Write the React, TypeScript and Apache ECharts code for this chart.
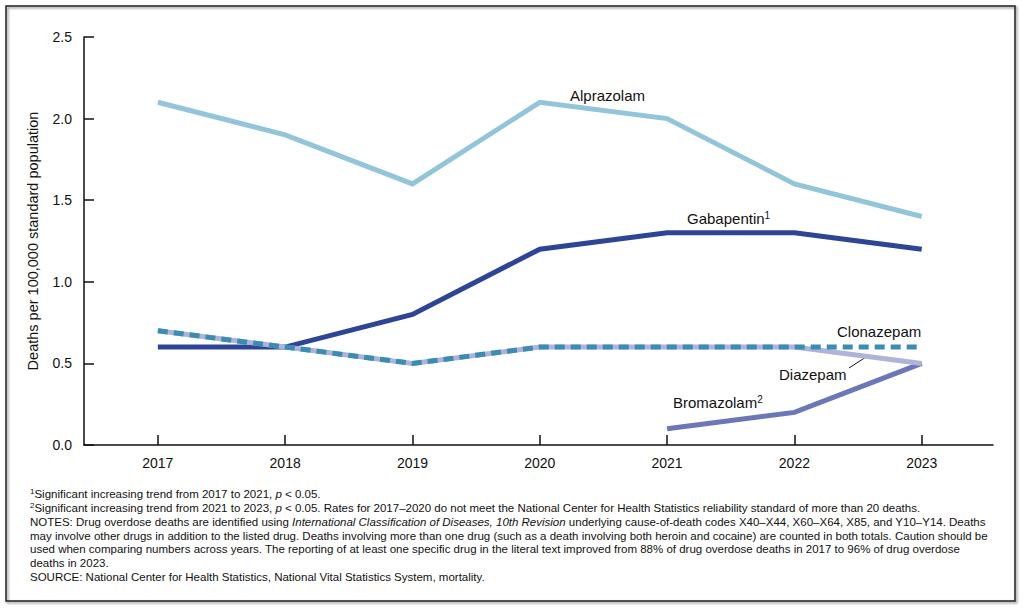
import React, { useEffect, useRef } from "react";
import * as echarts from "echarts";

const years = [2017, 2018, 2019, 2020, 2021, 2022, 2023];
const alprazolam = [2.1, 1.9, 1.6, 2.1, 2.0, 1.6, 1.4];
const gabapentin = [0.6, 0.6, 0.8, 1.2, 1.3, 1.3, 1.2];
const clonazepam = [0.7, 0.6, 0.5, 0.6, 0.6, 0.6, 0.6];
const diazepam = [0.7, 0.6, 0.5, 0.6, 0.6, 0.6, 0.5];
const bromazolam = [null, null, null, null, 0.1, 0.2, 0.5];
const yTicks = [0, 0.5, 1.0, 1.5, 2.0, 2.5];

const FONT = "Liberation Sans, Arial, sans-serif";

const pairs = (vals: (number | null)[]) => years.map((y, i) => [y, vals[i]]);

export default function App() {
  const ref = useRef<HTMLDivElement>(null);
  useEffect(() => {
    if (!ref.current) return;
    const chart = echarts.init(ref.current, undefined, { renderer: "svg" });
    const lineSeries = (name: string, vals: (number | null)[], color: string, extra: any = {}) => ({
      name,
      type: "line",
      data: pairs(vals),
      showSymbol: false,
      symbol: "none",
      connectNulls: false,
      lineStyle: { color, width: 5, cap: "butt", join: "miter", ...extra },
      silent: true,
    });
    const fnStyle = { fontFamily: FONT, fontSize: 11.5, fill: "#111" };
    const rich = {
      sup: { fontFamily: FONT, fontSize: 8, verticalAlign: "top", padding: [0, 0, 5, 0], fill: "#111" },
      it: { fontFamily: FONT, fontSize: 11.5, fontStyle: "italic", fill: "#111" },
      n: { fontFamily: FONT, fontSize: 11.5, fill: "#111" },
    };
    const footLines = [
      "{sup|1}{n|Significant increasing trend from 2017 to 2021, }{it|p}{n| < 0.05.}",
      "{sup|2}{n|Significant increasing trend from 2021 to 2023, }{it|p}{n| < 0.05. Rates for 2017–2020 do not meet the National Center for Health Statistics reliability standard of more than 20 deaths.}",
      "{n|NOTES: Drug overdose deaths are identified using }{it|International Classification of Diseases, 10th Revision}{n| underlying cause-of-death codes X40–X44, X60–X64, X85, and Y10–Y14. Deaths}",
      "{n|may involve other drugs in addition to the listed drug. Deaths involving more than one drug (such as a death involving both heroin and cocaine) are counted in both totals. Caution should be}",
      "{n|used when comparing numbers across years. The reporting of at least one specific drug in the literal text improved from 88% of drug overdose deaths in 2017 to 96% of drug overdose}",
      "{n|deaths in 2023.}",
      "{n|SOURCE: National Center for Health Statistics, National Vital Statistics System, mortality.}",
    ];
    const labelStyle = { fontFamily: FONT, fontSize: 15, fill: "#111" };
    const labelRich = {
      s: { fontFamily: FONT, fontSize: 10, verticalAlign: "top", padding: [0, 0, 6, 0], fill: "#111" },
      t: { fontFamily: FONT, fontSize: 15, fill: "#111" },
    };
    chart.setOption({
      animation: false,
      backgroundColor: "#fff",
      grid: { left: 84, right: 31, top: 37, bottom: 163, containLabel: false },
      xAxis: {
        type: "value",
        min: 2016.42,
        max: 2023.56,
        splitLine: { show: false },
        axisLine: { show: true, lineStyle: { color: "#111", width: 1.5 } },
        axisTick: { show: true, inside: true, length: 10, customValues: years, lineStyle: { color: "#111", width: 1.5 } },
        axisLabel: {
          customValues: years,
          margin: 11,
          fontFamily: FONT,
          fontSize: 14,
          color: "#111",
          formatter: (v: number) => String(Math.round(v)),
        },
      },
      yAxis: {
        type: "value",
        min: 0,
        max: 2.5,
        interval: 0.5,
        name: "Deaths per 100,000 standard population",
        nameLocation: "middle",
        nameGap: 44,
        nameTextStyle: { fontFamily: FONT, fontSize: 14.5, color: "#111" },
        splitLine: { show: false },
        axisLine: { show: true, lineStyle: { color: "#111", width: 1.5 } },
        axisTick: { show: true, inside: true, length: 10, lineStyle: { color: "#111", width: 1.5 } },
        axisLabel: {
          margin: 12,
          fontFamily: FONT,
          fontSize: 14,
          color: "#111",
          formatter: (v: number) => v.toFixed(1),
        },
      },
      series: [
        lineSeries("Alprazolam", alprazolam, "#92c5da"),
        lineSeries("Gabapentin", gabapentin, "#2d4497"),
        lineSeries("Bromazolam", bromazolam, "#6b77b6"),
        lineSeries("Diazepam", diazepam, "#aeb3d8"),
        lineSeries("Clonazepam", clonazepam, "#3a8db0", { type: [10, 6] }),
      ],
      graphic: [
        {
          type: "rect",
          shape: { x: 6, y: 6, width: 1009, height: 595 },
          style: { fill: "none", stroke: "#222", lineWidth: 1.5, shadowBlur: 2, shadowOffsetX: 1.5, shadowOffsetY: 1.5, shadowColor: "rgba(0,0,0,0.5)" },
          silent: true,
          z: -1,
        },
        { type: "text", x: 570, y: 95, style: { ...labelStyle, text: "Alprazolam", verticalAlign: "middle" } },
        {
          type: "text",
          x: 687,
          y: 218,
          style: { ...labelStyle, text: "{t|Gabapentin}{s|1}", rich: labelRich, verticalAlign: "middle" },
        },
        { type: "text", x: 837, y: 331, style: { ...labelStyle, text: "Clonazepam", verticalAlign: "middle" } },
        { type: "text", x: 779, y: 374, style: { ...labelStyle, text: "Diazepam", verticalAlign: "middle" } },
        {
          type: "text",
          x: 673,
          y: 402,
          style: { ...labelStyle, text: "{t|Bromazolam}{s|2}", rich: labelRich, verticalAlign: "middle" },
        },
        { type: "line", shape: { x1: 849, y1: 368, x2: 866, y2: 357 }, style: { stroke: "#111", lineWidth: 1 } },
        ...footLines.map((t, i) => ({
          type: "text",
          x: 30,
          y: 494 + i * 13.85,
          style: { ...fnStyle, text: t, rich, verticalAlign: "middle" },
        })),
      ],
    });
    return () => chart.dispose();
  }, []);
  return <div ref={ref} style={{ position: "fixed", left: 0, top: 0, width: 1024, height: 608 }} />;
}
